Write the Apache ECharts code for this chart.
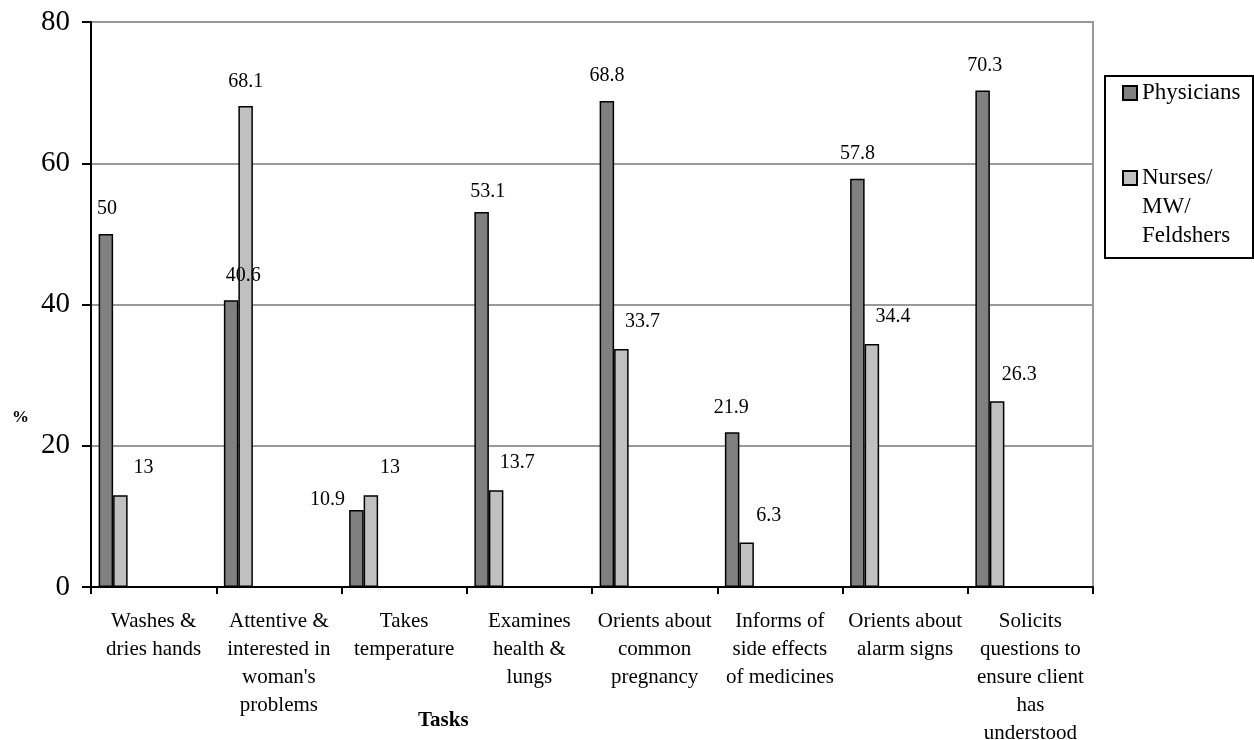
<!DOCTYPE html>
<html>
<head>
<meta charset="utf-8">
<script src="https://cdn.jsdelivr.net/npm/echarts@6/dist/echarts.min.js"></script>
<style>
html,body{margin:0;padding:0;background:#fff;}
#chart{width:1254px;height:740px;}
</style>
</head>
<body>
<div id="chart"></div>
<script>
const categories = [
  "Washes &\ndries hands",
  "Attentive &\ninterested in\nwoman's\nproblems",
  "Takes\ntemperature",
  "Examines\nhealth &\nlungs",
  "Orients about\ncommon\npregnancy",
  "Informs of\nside effects\nof medicines",
  "Orients about\nalarm signs",
  "Solicits\nquestions to\nensure client\nhas\nunderstood"
];
const physicians = [50, 40.6, 10.9, 53.1, 68.8, 21.9, 57.8, 70.3];
const nurses = [13, 68.1, 13, 13.7, 33.7, 6.3, 34.4, 26.3];
const yTicks = [0, 20, 40, 60, 80];

// label placement (style only)
const physLabelOffsets = [[1,-10],[12,-10],[-29,5],[6,-5],[0,-10],[-1,-10],[0,-10],[2,-10]];
const nurseLabelOffsets = [[23,-12],[0,-9],[19,-12],[21,-12],[21,-12],[22,-12],[21,-12],[22,-12]];

const FONT = '"Liberation Serif", "Times New Roman", serif';

function withLabels(vals, offs) {
  return vals.map((v, i) => ({ value: v, label: { offset: offs[i] } }));
}

const chart = echarts.init(document.getElementById('chart'));
const labelStyle = {
  show: true, position: 'top', distance: 5,
  fontFamily: FONT, fontSize: 20, color: '#000'
};
chart.setOption({
  animation: false,
  backgroundColor: '#fff',
  grid: {
    left: 91, right: 161, top: 22, bottom: 153,
    containLabel: false, outerBoundsMode: 'none',
    show: true, borderColor: '#999', borderWidth: 2, backgroundColor: 'transparent'
  },
  xAxis: {
    type: 'category',
    data: categories,
    boundaryGap: true,
    axisLine: { show: true, lineStyle: { color: '#000', width: 2 } },
    axisTick: { show: true, length: 7, inside: false, alignWithLabel: false, lineStyle: { color: '#000', width: 2 } },
    axisLabel: {
      interval: 0, margin: 20,
      fontFamily: FONT, fontSize: 21, color: '#000', lineHeight: 28, align: 'center'
    },
    splitLine: { show: false }
  },
  yAxis: {
    type: 'value',
    min: yTicks[0], max: yTicks[yTicks.length - 1], interval: 20,
    axisLine: { show: true, lineStyle: { color: '#000', width: 2 } },
    axisTick: { show: true, length: 9, lineStyle: { color: '#000', width: 2 } },
    axisLabel: { margin: 21, fontFamily: FONT, fontSize: 29, color: '#000' },
    splitLine: { show: true, lineStyle: { color: '#999', width: 2 } }
  },
  legend: [
    {
      data: ['Physicians'],
      orient: 'vertical', left: 1122, top: 79, padding: 0,
      itemWidth: 14, itemHeight: 14, icon: 'rect',
      textStyle: { fontFamily: FONT, fontSize: 23, color: '#000', lineHeight: 28 }
    },
    {
      data: ['Nurses/MW/Feldshers'],
      orient: 'vertical', left: 1122, top: 162.5, padding: 0,
      itemWidth: 14, itemHeight: 87,
      icon: 'path://M0,0L0,0M0,7.5H14V21.5H0Z M14,87L14,87',
      formatter: function () { return 'Nurses/\nMW/\nFeldshers'; },
      textStyle: { fontFamily: FONT, fontSize: 23, color: '#000', lineHeight: 29 }
    }
  ],
  graphic: [
    { type: 'rect', left: 1104, top: 75, shape: { width: 148, height: 182 }, z: -1,
      style: { fill: '#fff', stroke: '#000', lineWidth: 2 } },
    { type: 'text', left: 12, top: 409, style: { text: '%', font: 'bold 17px ' + FONT, fill: '#000' } },
    { type: 'text', left: 418, top: 710, style: { text: 'Tasks', font: 'bold 21px ' + FONT, fill: '#000' } }
  ],
  series: [
    {
      name: 'Physicians', type: 'bar', barWidth: 14.5, barGap: 0,
      data: withLabels(physicians, physLabelOffsets),
      itemStyle: { color: '#808080', borderColor: '#000', borderWidth: 1.5 },
      label: labelStyle
    },
    {
      name: 'Nurses/MW/Feldshers', type: 'bar', barWidth: 14.5, barGap: 0,
      data: withLabels(nurses, nurseLabelOffsets),
      itemStyle: { color: '#c0c0c0', borderColor: '#000', borderWidth: 1.5 },
      label: labelStyle
    },
    {
      name: 'spacer', type: 'bar', barWidth: 81, barGap: 0,
      data: categories.map(() => '-'),
      silent: true, itemStyle: { color: 'transparent' }
    }
  ]
});
</script>
</body>
</html>
